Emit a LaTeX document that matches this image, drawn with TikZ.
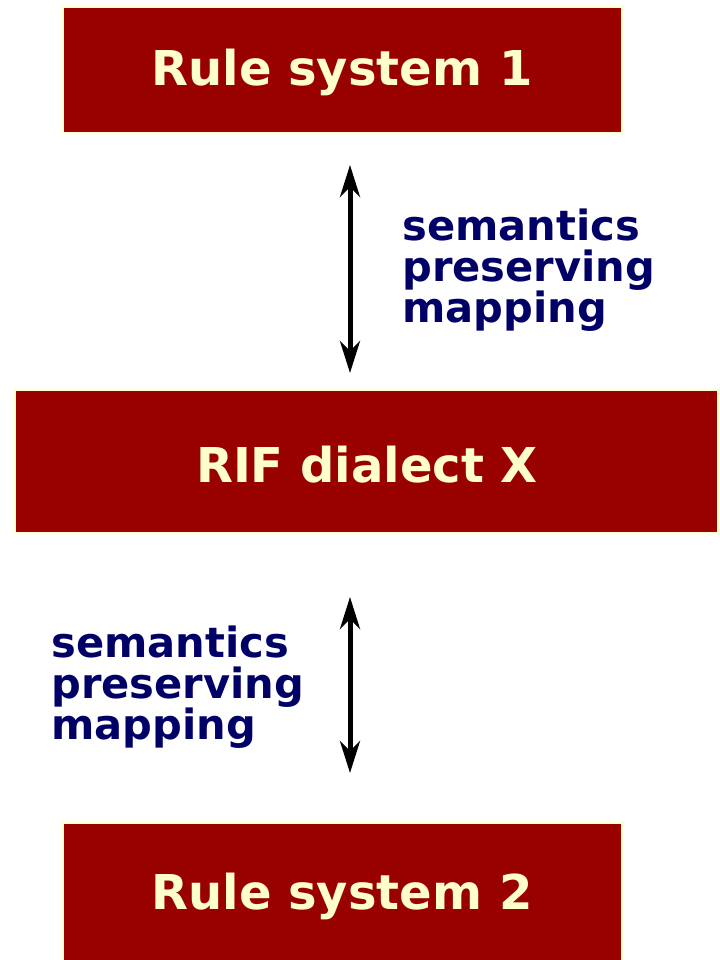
\documentclass[tikz,border=0pt]{standalone}
\usepackage{fontspec}
\setmainfont{DejaVu Sans}
\usetikzlibrary{arrows.meta}
\definecolor{boxred}{HTML}{990000}
\definecolor{boxtext}{HTML}{FFFFCC}
\definecolor{labelblue}{HTML}{000066}
\newcommand{\boxfont}{\fontsize{24}{28}\selectfont\bfseries}
\newcommand{\lblfont}{\fontsize{20.8}{20.5}\selectfont\bfseries}

\begin{document}
\begin{tikzpicture}[x=0.5pt,y=-0.5pt,
    box/.style={draw=boxtext, line width=0.6pt, fill=boxred, text=boxtext, rectangle, inner sep=0pt, font=\boxfont},
    lbl/.style={anchor=north west, align=left, text=labelblue, inner sep=0pt, font=\lblfont},
    map/.style={line width=2.5pt, {Stealth[length=16pt,width=10pt,inset=5pt]}-{Stealth[length=16pt,width=10pt,inset=5pt]}}]
    \useasboundingbox (0,0) rectangle (719,960);

    % Boxes
    \node[box, minimum width=279.5pt, minimum height=63pt] (rule1) at (342.5,70) {};
    \node[boxtext, font=\boxfont] (rule1-text) at (342,72) {Rule system 1};
    \node[box, minimum width=351.5pt, minimum height=71.5pt] (rif) at (366.5,461.5) {};
    \node[boxtext, font=\boxfont] (rif-text) at (367,465) {RIF dialect X};
    \node[box, minimum width=279.5pt, minimum height=69pt] (rule2) at (342.5,892) {};
    \node[boxtext, font=\boxfont] (rule2-text) at (342,896) {Rule system 2};

    % Mappings
    \coordinate (map1-top) at (350,165);
    \coordinate (map1-bot) at (350,373);
    \coordinate (map2-top) at (350,597);
    \coordinate (map2-bot) at (350,773);
    \draw[map] (map1-top) -- (map1-bot);
    \draw[map] (map2-top) -- (map2-bot);

    \node[lbl] (map1-label) at (402,208) {semantics\\preserving\\mapping};
    \node[lbl] (map2-label) at (51,625) {semantics\\preserving\\mapping};
\end{tikzpicture}
\end{document}
